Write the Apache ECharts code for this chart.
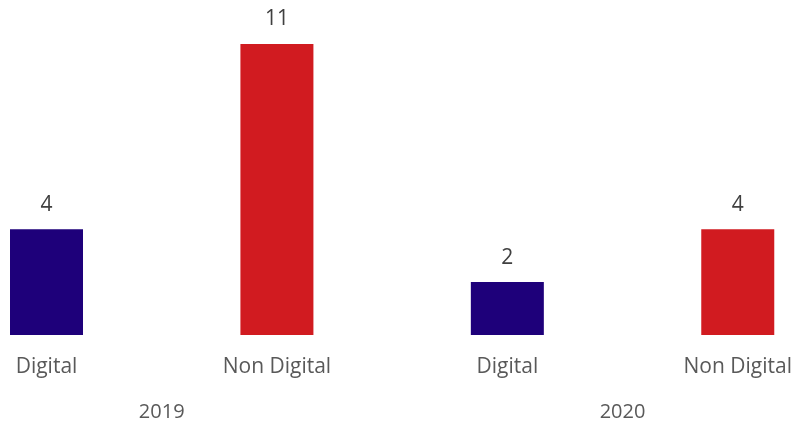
<!DOCTYPE html>
<html>
<head>
<meta charset="utf-8">
<script src="https://cdn.jsdelivr.net/npm/echarts@6/dist/echarts.min.js"></script>
<style>
  html, body { margin: 0; padding: 0; background: #ffffff; }
  #chart { width: 795px; height: 426px; }
</style>
</head>
<body>
<div id="chart"></div>
<script>
// Counts per year, split into digital vs non-digital
const categories = ['Digital', 'Non Digital', 'Digital', 'Non Digital'];
const values = [4, 11, 2, 4];
const barColors = ['#1e007a', '#d11b20', '#1e007a', '#d11b20'];
// Year group labels, placed midway between each pair of bars
const yearLabels = ['', '2019', '', '', '', '2020', ''];

const FONT = '"Open Sans", sans-serif';
const chart = echarts.init(document.getElementById('chart'));

chart.setOption({
  animation: false,
  grid: { left: 46.5, right: 53, top: 44, bottom: 91, containLabel: false },
  xAxis: [
    {
      type: 'category',
      data: categories,
      boundaryGap: false,
      axisLine: { show: false },
      axisTick: { show: false },
      axisLabel: { interval: 0, margin: 22, fontSize: 21, color: '#595959', fontFamily: FONT }
    },
    {
      type: 'category',
      data: yearLabels,
      boundaryGap: false,
      position: 'bottom',
      offset: 45,
      axisLine: { show: false },
      axisTick: { show: false },
      axisLabel: { interval: 0, margin: 22, fontSize: 20, color: '#595959', fontFamily: FONT }
    }
  ],
  yAxis: {
    type: 'value',
    min: 0,
    max: 11,
    show: false,
    splitLine: { show: false }
  },
  series: [{
    type: 'bar',
    xAxisIndex: 0,
    barWidth: 73,
    data: values.map((v, i) => ({ value: v, itemStyle: { color: barColors[i] } })),
    label: {
      show: true,
      position: 'top',
      distance: 14,
      fontSize: 21,
      color: '#404040',
      fontFamily: FONT
    }
  }]
});
</script>
</body>
</html>
